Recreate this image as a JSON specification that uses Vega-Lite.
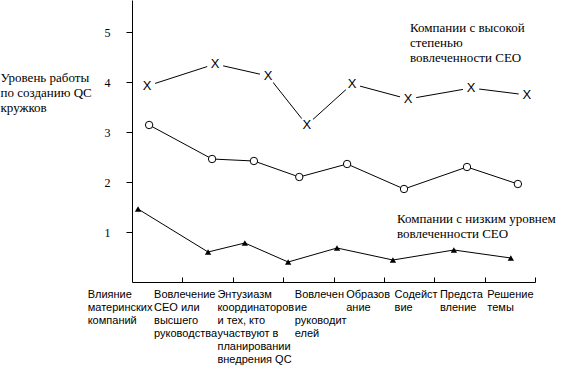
{
  "$schema": "https://vega.github.io/schema/vega-lite/v6.json",
  "width": 403,
  "height": 282,
  "autosize": "none",
  "padding": {"left": 132, "top": 0, "right": 44, "bottom": 83},
  "background": "white",
  "config": {
    "view": {"stroke": null},
    "axis": {"grid": false, "domainColor": "black", "tickColor": "black", "labelColor": "black", "titleColor": "black"}
  },
  "datasets": {
    "pts": [
      {"cat": "Влияние|материнских|компаний", "series": "high", "y": 3.92, "pos": 0.30},
      {"cat": "Вовлечение|CEO или|высшего|руководства", "series": "high", "y": 4.36, "pos": 0.65},
      {"cat": "Энтузиазм|координаторов|и тех, кто|участвуют в|планировании|внедрения QC", "series": "high", "y": 4.12, "pos": 0.70},
      {"cat": "Вовлечен|ие|руководит|елей", "series": "high", "y": 3.14, "pos": 0.47},
      {"cat": "Образов|ание", "series": "high", "y": 3.96, "pos": 0.37},
      {"cat": "Содейст|вие", "series": "high", "y": 3.66, "pos": 0.48},
      {"cat": "Предста|вление", "series": "high", "y": 3.88, "pos": 0.73},
      {"cat": "Решение|темы", "series": "high", "y": 3.74, "pos": 0.84},
      {"cat": "Влияние|материнских|компаний", "series": "mid", "y": 3.14, "pos": 0.34},
      {"cat": "Вовлечение|CEO или|высшего|руководства", "series": "mid", "y": 2.46, "pos": 0.59},
      {"cat": "Энтузиазм|координаторов|и тех, кто|участвуют в|планировании|внедрения QC", "series": "mid", "y": 2.42, "pos": 0.42},
      {"cat": "Вовлечен|ие|руководит|елей", "series": "mid", "y": 2.10, "pos": 0.32},
      {"cat": "Образов|ание", "series": "mid", "y": 2.36, "pos": 0.27},
      {"cat": "Содейст|вие", "series": "mid", "y": 1.86, "pos": 0.40},
      {"cat": "Предста|вление", "series": "mid", "y": 2.30, "pos": 0.65},
      {"cat": "Решение|темы", "series": "mid", "y": 1.96, "pos": 0.66},
      {"cat": "Влияние|материнских|компаний", "series": "low", "y": 1.46, "pos": 0.12},
      {"cat": "Вовлечение|CEO или|высшего|руководства", "series": "low", "y": 0.60, "pos": 0.51},
      {"cat": "Энтузиазм|координаторов|и тех, кто|участвуют в|планировании|внедрения QC", "series": "low", "y": 0.78, "pos": 0.24},
      {"cat": "Вовлечен|ие|руководит|елей", "series": "low", "y": 0.40, "pos": 0.10},
      {"cat": "Образов|ание", "series": "low", "y": 0.68, "pos": 0.07},
      {"cat": "Содейст|вие", "series": "low", "y": 0.44, "pos": 0.18},
      {"cat": "Предста|вление", "series": "low", "y": 0.64, "pos": 0.39},
      {"cat": "Решение|темы", "series": "low", "y": 0.48, "pos": 0.52}
    ],
    "notes": [
      {"cat": "Содейст|вие", "pos": 0.52, "y": 5.08, "text": ["Компании с высокой", "степенью", "вовлеченности CEO"]},
      {"cat": "Содейст|вие", "pos": 0.26, "y": 1.26, "text": ["Компании с низким уровнем", "вовлеченности CEO"]}
    ]
  },
  "encoding": {
    "x": {
      "field": "cat", "type": "nominal", "sort": null,
      "scale": {"paddingInner": 0, "paddingOuter": 0},
      "axis": {
        "title": null,
        "tickBand": "extent",
        "tickSize": -5,
        "tickOpacity": {"condition": {"test": "datum.value", "value": 1}, "value": 0},
        "labelPadding": 11,
        "labelAngle": 0,
        "labelAlign": "left",
        "labelOffset": {
          "condition": [
            {"test": "datum.value == 'Влияние|материнских|компаний'", "value": -70},
            {"test": "datum.value == 'Вовлечение|CEO или|высшего|руководства'", "value": -54},
            {"test": "datum.value == 'Энтузиазм|координаторов|и тех, кто|участвуют в|планировании|внедрения QC'", "value": -41},
            {"test": "datum.value == 'Вовлечен|ие|руководит|елей'", "value": -14},
            {"test": "datum.value == 'Образов|ание'", "value": -13},
            {"test": "datum.value == 'Содейст|вие'", "value": -15},
            {"test": "datum.value == 'Предста|вление'", "value": -20}
          ],
          "value": -23
        },
        "labelBaseline": "top",
        "labelFont": "Liberation Sans",
        "labelFontSize": 11,
        "labelLineHeight": 13,
        "labelLimit": 0,
        "labelOverlap": false,
        "labelBound": false,
        "labelFlush": false,
        "labelExpr": "datum.value ? split(datum.value, '|') : ''"
      }
    },
    "xOffset": {"field": "pos", "type": "quantitative", "scale": {"domain": [0, 1]}},
    "y": {
      "field": "y", "type": "quantitative",
      "scale": {"domain": [0, 5.64], "nice": false, "zero": true},
      "axis": {
        "values": [1, 2, 3, 4, 5],
        "tickSize": 6,
        "labelPadding": 16,
        "labelFont": "Liberation Serif",
        "labelFontSize": 12,
        "title": ["Уровень работы", "по созданию QC", "кружков"],
        "titleAngle": 0,
        "titleAlign": "left",
        "titleBaseline": "top",
        "titleX": -132,
        "titleY": 71,
        "titleFont": "Liberation Serif",
        "titleFontSize": 13,
        "titleFontWeight": "normal",
        "titleLineHeight": 15
      }
    }
  },
  "layer": [
    {
      "data": {"name": "pts"},
      "mark": {"type": "line", "color": "black", "strokeWidth": 1},
      "encoding": {"detail": {"field": "series", "type": "nominal"}}
    },
    {
      "data": {"name": "pts"},
      "transform": [{"filter": "datum.series == 'high'"}],
      "mark": {"type": "point", "shape": "circle", "filled": true, "color": "white", "opacity": 1, "size": 280}
    },
    {
      "data": {"name": "pts"},
      "transform": [{"filter": "datum.series == 'high'"}],
      "mark": {"type": "text", "text": "X", "font": "Liberation Sans", "fontSize": 13, "align": "center", "baseline": "middle", "color": "black"}
    },
    {
      "data": {"name": "pts"},
      "transform": [{"filter": "datum.series == 'mid'"}],
      "mark": {"type": "point", "shape": "circle", "filled": true, "fill": "white", "stroke": "black", "strokeWidth": 1, "opacity": 1, "size": 55}
    },
    {
      "data": {"name": "pts"},
      "transform": [{"filter": "datum.series == 'low'"}],
      "mark": {"type": "point", "shape": "triangle-up", "filled": true, "color": "black", "opacity": 1, "size": 40}
    },
    {
      "data": {"name": "notes"},
      "mark": {"type": "text", "align": "left", "baseline": "middle", "font": "Liberation Serif", "fontSize": 13, "lineHeight": 15, "color": "black"},
      "encoding": {"text": {"field": "text"}}
    }
  ]
}
